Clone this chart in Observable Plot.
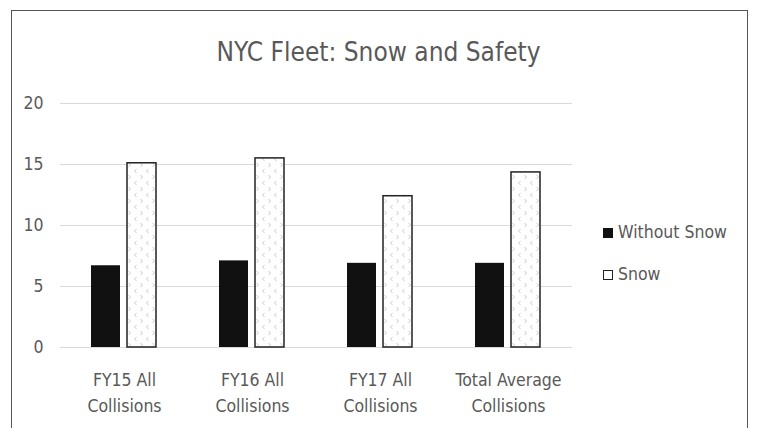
<!DOCTYPE html>
<html>
<head>
<meta charset="utf-8">
<script src="https://cdn.jsdelivr.net/npm/d3@7"></script>
<script src="https://cdn.jsdelivr.net/npm/@observablehq/plot@0.6"></script>
<style>
  body { margin: 0; background: #fff; }
  #wrap { position: relative; width: 757px; height: 428px; overflow: hidden; font-family: "Liberation Sans Narrow", "DejaVu Sans Condensed", "Liberation Sans", sans-serif; }
  #frame { position: absolute; left: 11px; top: 10px; width: 737px; height: 440px; border: 1.5px solid #555; box-sizing: border-box; }
  #title { position: absolute; left: 0; width: 757px; top: 39px; text-align: center; font-size: 26px; color: #595959; line-height: 1; }
  .leg { position: absolute; left: 603px; font-size: 17.5px; color: #595959; line-height: 1; display: flex; align-items: center; }
  .sw { width: 10px; height: 10px; margin-right: 5px; box-sizing: border-box; }
  #chart { position: absolute; left: 0; top: 0; }
</style>
</head>
<body>
<div id="wrap">
  <div id="chart"></div>
  <div id="frame"></div>
  <div id="title">NYC Fleet: Snow and Safety</div>
  <div class="leg" style="top:224px"><div class="sw" style="background:#111"></div>Without Snow</div>
  <div class="leg" style="top:266px"><div class="sw" style="border:1.5px solid #222;background:#fff"></div>Snow</div>
</div>
<script>
const categories = ["FY15 All\nCollisions", "FY16 All\nCollisions", "FY17 All\nCollisions", "Total Average\nCollisions"];
const series = ["Without Snow", "Snow"];
const withoutSnow = [6.7, 7.1, 6.9, 6.9];
const snow = [15.1, 15.5, 12.4, 14.35];
const yTicks = [0, 5, 10, 15, 20];

const data = [];
categories.forEach((c, i) => {
  data.push({category: c, series: "Without Snow", value: withoutSnow[i]});
  data.push({category: c, series: "Snow", value: snow[i]});
});

const chart = Plot.plot({
  width: 757,
  height: 428,
  marginLeft: 60,
  marginRight: 185,
  marginTop: 103,
  marginBottom: 81,
  style: {fontFamily: "'Liberation Sans Narrow', 'DejaVu Sans Condensed', 'Liberation Sans', sans-serif", color: "#595959", background: "transparent"},
  fx: {domain: categories, padding: 0, label: null, axis: null},
  x: {domain: series, paddingInner: 0.19, paddingOuter: 0.87, axis: null},
  y: {domain: [0, 20], axis: null},
  marks: [
    Plot.gridY(yTicks, {stroke: "#d9d9d9", strokeOpacity: 1, strokeWidth: 1.2}),
    Plot.axisY(yTicks, {tickSize: 0, tickPadding: 17, fontSize: 17.5, label: null, fill: "#595959"}),
    Plot.axisFx({anchor: "bottom", tickSize: 0, tickPadding: 20, fontSize: 17.5, lineHeight: 1.48, label: null, fill: "#595959"}),
    Plot.barY(data.filter(d => d.series === "Without Snow"), {fx: "category", x: "series", y: "value", fill: "#111"}),
    Plot.barY(data.filter(d => d.series === "Snow"), {fx: "category", x: "series", y: "value", fill: "url(#snowpat)", stroke: "#222", strokeWidth: 1.5})
  ]
});

const ns = "http://www.w3.org/2000/svg";
const defs = document.createElementNS(ns, "defs");
defs.innerHTML = `<pattern id="snowpat" patternUnits="userSpaceOnUse" width="12" height="12">
  <rect width="12" height="12" fill="#fff"/>
  <path d="M4.5 1 L2.5 3 L4.5 5" fill="none" stroke="#c4c4c4" stroke-width="0.9"/>
  <path d="M8.5 7 L10.5 9 L8.5 11" fill="none" stroke="#c4c4c4" stroke-width="0.9"/>
</pattern>`;
chart.insertBefore(defs, chart.firstChild);
document.getElementById("chart").appendChild(chart);
</script>
</body>
</html>
